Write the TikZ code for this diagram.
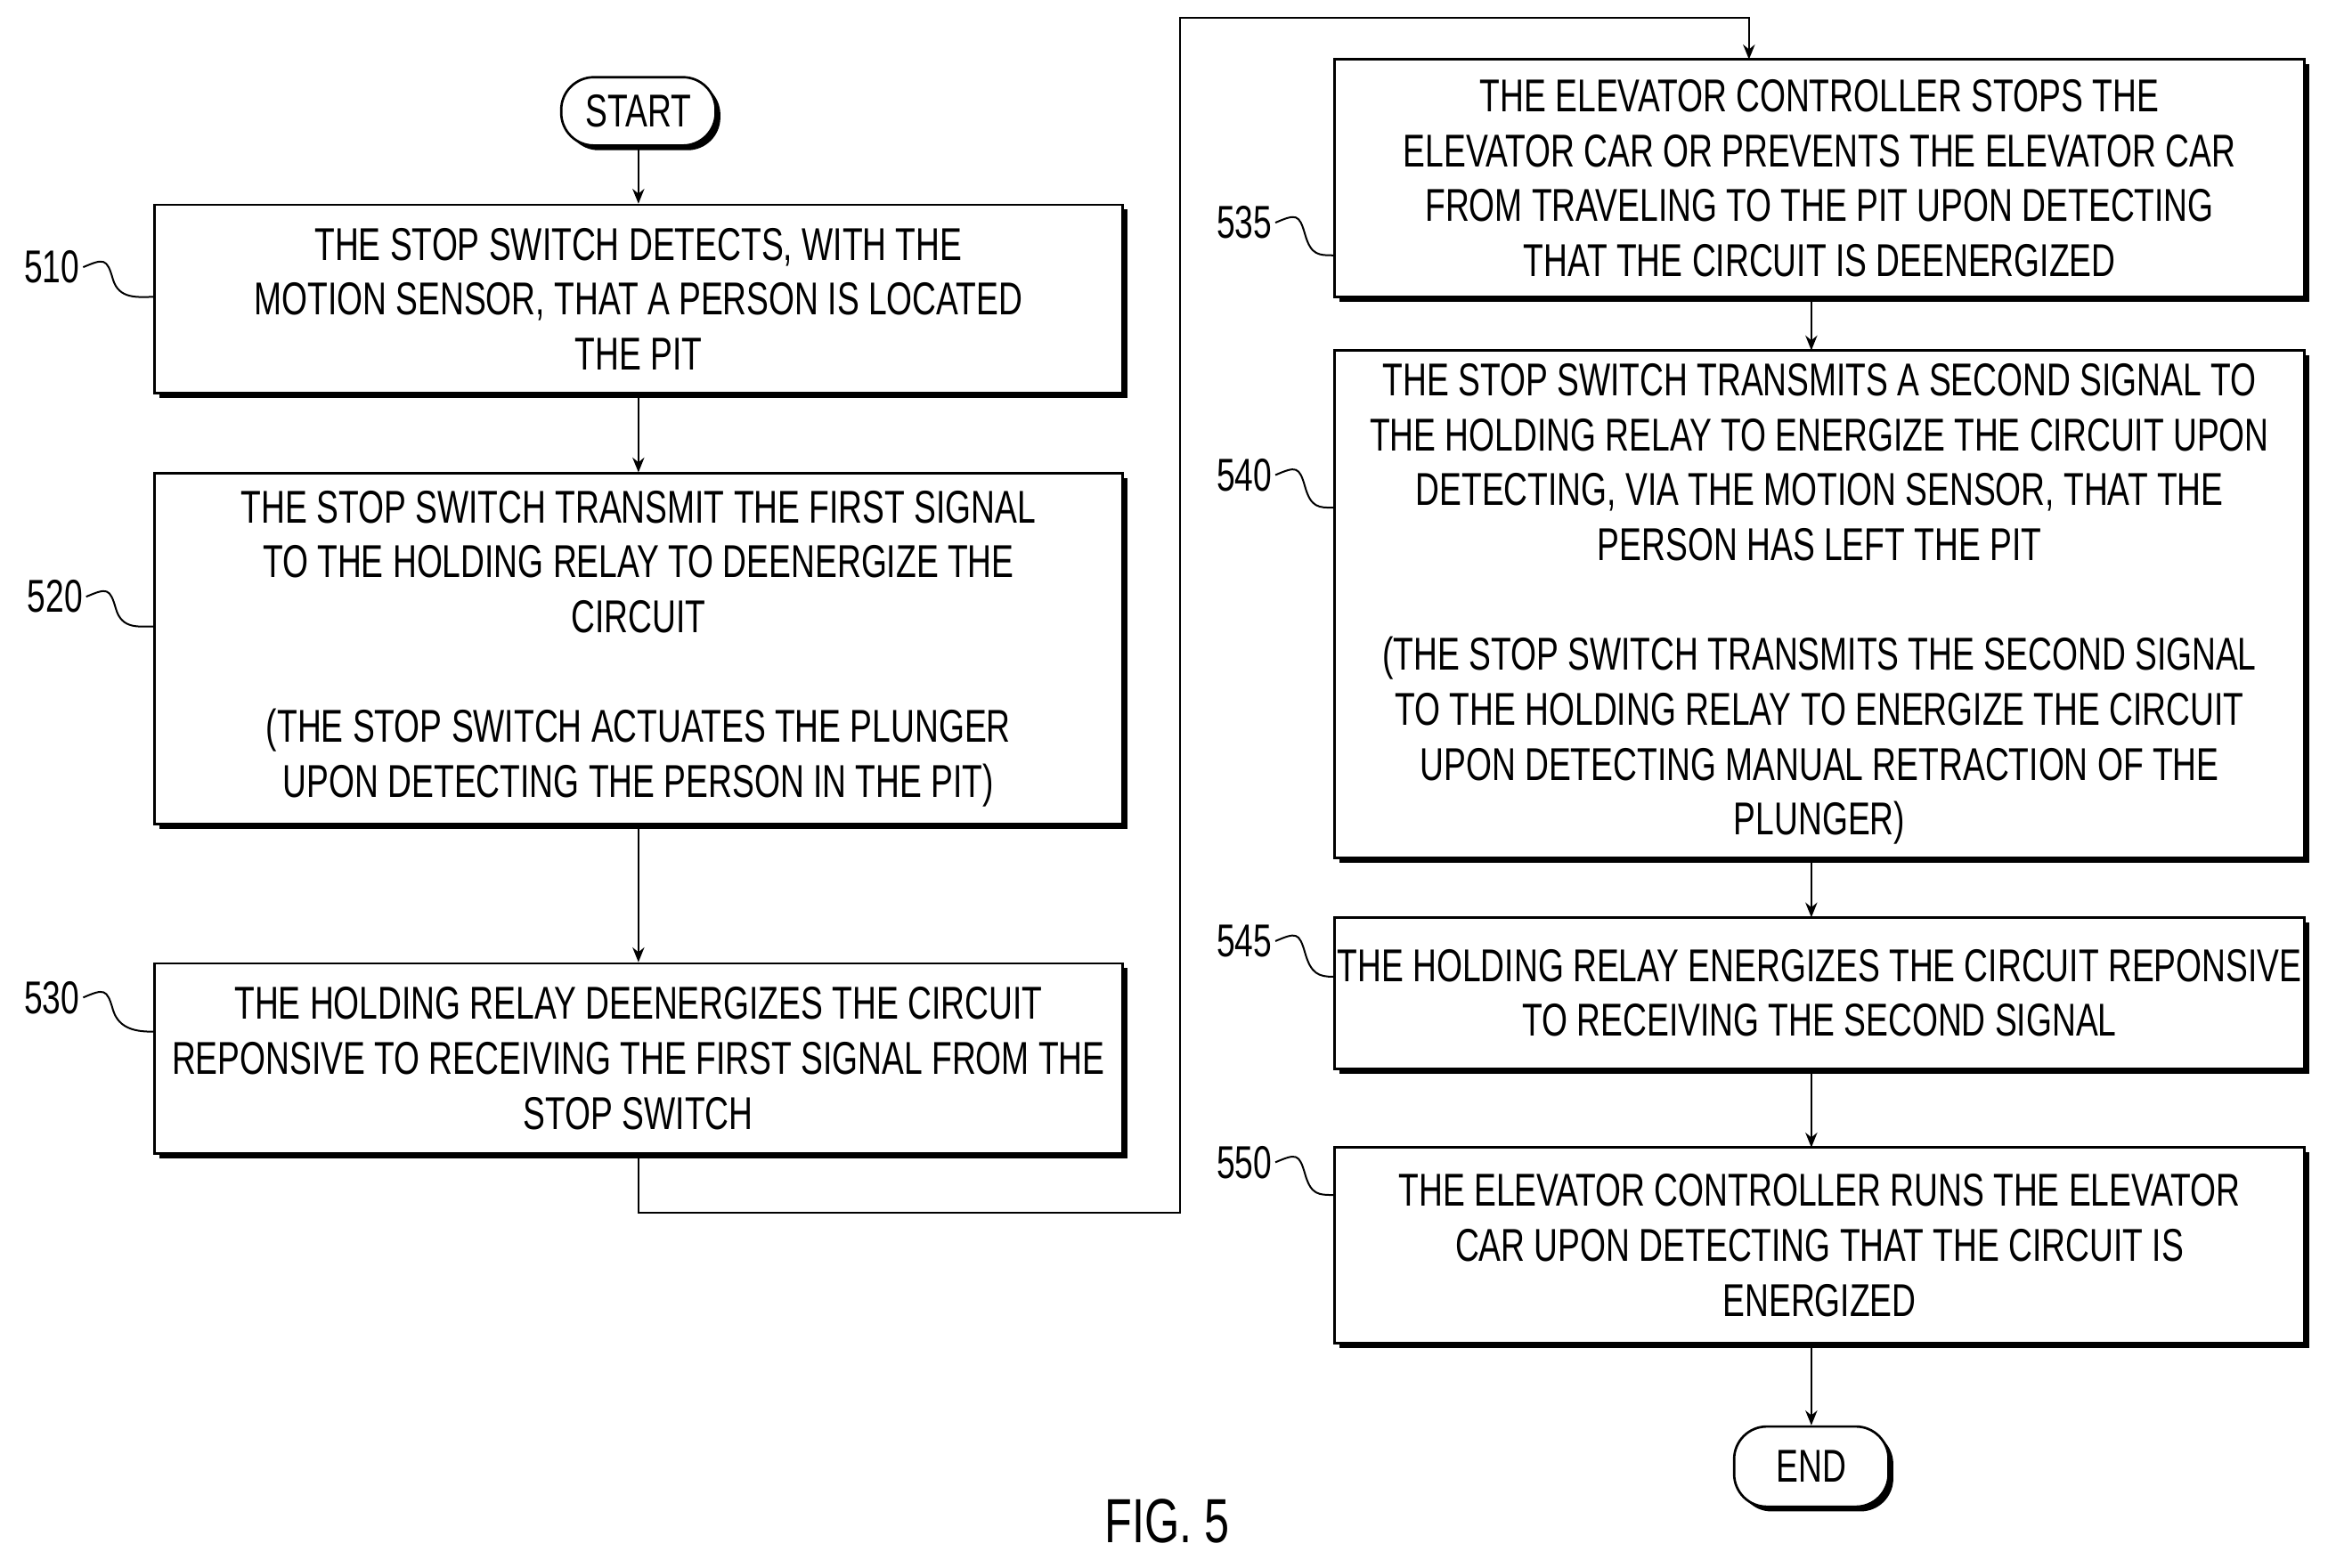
\documentclass[tikz,border=0pt]{standalone}
\usepackage{fontspec}
\setmainfont{Liberation Sans}[FakeStretch=0.72]
\usetikzlibrary{shadows,arrows.meta}
\begin{document}
\begin{tikzpicture}[x=0.5pt,y=-0.5pt,
  box/.style={draw,line width=0.8pt,fill=white,align=center,inner sep=0pt,
    font=\fontsize{15.5pt}{18.5pt}\selectfont,
    drop shadow={shadow xshift=1.6pt,shadow yshift=-1.6pt,fill=black,opacity=1}},
  term/.style={box,rounded corners=11pt},
  arr/.style={-{Stealth[length=5pt,width=4pt]},line width=0.6pt},
  lab/.style={font=\fontsize{15.5pt}{18pt}\selectfont,inner sep=1pt},
  sq/.style={line width=0.6pt}]
\useasboundingbox (0,0) rectangle (1568,1056);
\node[term,minimum width=52pt,minimum height=23pt] (start) at (430,75) {START};
\node[box,minimum width=326pt,minimum height=63.5pt] (b510) at (430,201.5) {THE STOP SWITCH DETECTS, WITH THE\\MOTION SENSOR, THAT A PERSON IS LOCATED\\THE PIT};
\node[box,minimum width=326pt,minimum height=118pt] (b520) at (430,437) {THE STOP SWITCH TRANSMIT THE FIRST SIGNAL\\TO THE HOLDING RELAY TO DEENERGIZE THE\\CIRCUIT\\[18.5pt](THE STOP SWITCH ACTUATES THE PLUNGER\\UPON DETECTING THE PERSON IN THE PIT)};
\node[box,minimum width=326pt,minimum height=64pt] (b530) at (430,713) {THE HOLDING RELAY DEENERGIZES THE CIRCUIT\\REPONSIVE TO RECEIVING THE FIRST SIGNAL FROM THE\\STOP SWITCH};
\node[box,minimum width=326.5pt,minimum height=80pt] (b535) at (1225.5,120) {THE ELEVATOR CONTROLLER STOPS THE\\ELEVATOR CAR OR PREVENTS THE ELEVATOR CAR\\FROM TRAVELING TO THE PIT UPON DETECTING\\THAT THE CIRCUIT IS DEENERGIZED};
\node[box,minimum width=326.5pt,minimum height=171pt] (b540) at (1225.5,407) {THE STOP SWITCH TRANSMITS A SECOND SIGNAL TO\\THE HOLDING RELAY TO ENERGIZE THE CIRCUIT UPON\\DETECTING, VIA THE MOTION SENSOR, THAT THE\\PERSON HAS LEFT THE PIT\\[18.5pt](THE STOP SWITCH TRANSMITS THE SECOND SIGNAL\\TO THE HOLDING RELAY TO ENERGIZE THE CIRCUIT\\UPON DETECTING MANUAL RETRACTION OF THE\\PLUNGER)};
\node[box,minimum width=326.5pt,minimum height=51pt] (b545) at (1225.5,669) {THE HOLDING RELAY ENERGIZES THE CIRCUIT REPONSIVE\\TO RECEIVING THE SECOND SIGNAL};
\node[box,minimum width=326.5pt,minimum height=66pt] (b550) at (1225.5,839) {THE ELEVATOR CONTROLLER RUNS THE ELEVATOR\\CAR UPON DETECTING THAT THE CIRCUIT IS\\ENERGIZED};
\node[term,minimum width=52pt,minimum height=27pt] (end) at (1220,988) {END};
\node[lab,font=\fontsize{21pt}{24pt}\selectfont] (fig) at (786,1025) {FIG. 5};
\draw[arr] (start) -- (b510);
\draw[arr] (b510) -- (b520);
\draw[arr] (b520) -- (b530);
\coordinate (c1) at (795,817);
\coordinate (c2) at (795,12);
\draw[arr] (b530.south) -- (430,817) -- (c1) -- (c2) -- (1178,12) -- (1178,40);
\draw[arr] (1220,200) -- (1220,236);
\draw[arr] (1220,578) -- (1220,618);
\draw[arr] (1220,720) -- (1220,773);
\draw[arr] (1220,905) -- (end);
\foreach \n/\lx/\ly/\bx/\by in {510/35/180/b510/200, 520/37/402/b520/422, 530/35/672/b530/695,
  535/838/150/b535/172, 540/838/320/b540/342, 545/838/634/b545/658, 550/838/783/b550/805}{
  \node[lab] (l\n) at (\lx,\ly) {\n};
  \draw[sq] (l\n.east) .. controls +(14,-6) and +(-4,-14) .. ++(20,8) .. controls +(4,14) and +(-10,0) .. (\bx.west |- 0,\by);
}
\end{tikzpicture}
\end{document}
